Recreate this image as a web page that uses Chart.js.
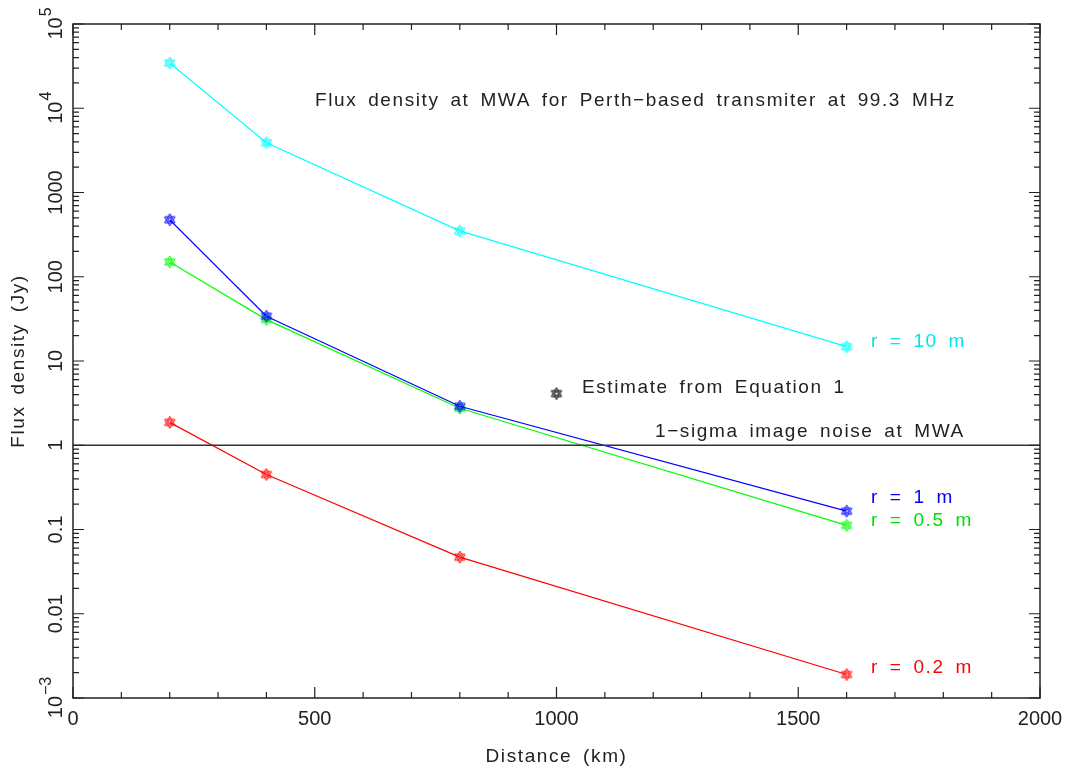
<!DOCTYPE html>
<html>
<head>
<meta charset="utf-8">
<script src="https://cdn.jsdelivr.net/npm/chart.js@4.4.1/dist/chart.umd.min.js"></script>
<style>
  body { margin: 0; background: #fff; }
  #wrap { width: 1074px; height: 774px; }
</style>
</head>
<body>
<div id="wrap"><canvas id="fluxChart" width="1074" height="774"></canvas></div>
<script>
// Data
const distances = [200, 400, 800, 1600];          // km
const flux10m  = [34500, 3900, 350, 14.8];        // Jy, r = 10 m
const flux1m   = [475, 34, 2.9, 0.165];           // Jy, r = 1 m
const flux05m  = [150, 31, 2.75, 0.112];          // Jy, r = 0.5 m
const flux02m  = [1.87, 0.45, 0.047, 0.0019];     // Jy, r = 0.2 m
const estimateX = [1000];
const estimateY = [4.1];
const noiseX = [0, 2000];
const noiseY = [1, 1];
const xTickValues = [0, 500, 1000, 1500, 2000];
const yTickValues = [0.001, 0.01, 0.1, 1, 10, 100, 1000, 10000, 100000];
const yTickLabels = [['10', '\u22123'], ['0.01'], ['0.1'], ['1'], ['10'], ['100'], ['1000'], ['10', '4'], ['10', '5']];

const FONT = '"Liberation Sans", Arial, sans-serif';
const TXT = '#222';

// hexagram marker, like the pgplot symbol
function makeStar(color) {
    const c = document.createElement('canvas');
    c.width = 16; c.height = 16;
    const g = c.getContext('2d');
    g.strokeStyle = color;
    g.lineWidth = 1;
    const r = 6, cx = 8, cy = 8;
    for (let t = 0; t < 2; t++) {
        g.beginPath();
        for (let i = 0; i < 3; i++) {
            const a = (t * 60 + i * 120 - 90) * Math.PI / 180;
            const px = cx + r * Math.cos(a), py = cy + r * Math.sin(a);
            i === 0 ? g.moveTo(px, py) : g.lineTo(px, py);
        }
        g.closePath();
        g.stroke();
    }
    g.beginPath();
    g.arc(cx, cy, 1.8, 0, Math.PI * 2);
    g.stroke();
    return c;
}

function pts(xs, ys) {
    return xs.map((x, i) => ({ x: x, y: ys[i] }));
}

function series(label, ys, color) {
    return {
        label: label,
        data: pts(distances, ys),
        showLine: true,
        borderColor: color,
        backgroundColor: color,
        borderWidth: 1.2,
        pointStyle: makeStar(color),
        pointRadius: 6,
        tension: 0
    };
}

// frame, inward ticks, y labels, axis titles and annotations
const framePlugin = {
    id: 'frame',
    afterDraw(chart) {
        const ctx = chart.ctx;
        const a = chart.chartArea;
        const xs = chart.scales.x, ys = chart.scales.y;
        ctx.save();
        ctx.strokeStyle = '#222';
        ctx.lineWidth = 1.5;
        ctx.strokeRect(a.left, a.top, a.right - a.left, a.bottom - a.top);

        ctx.lineWidth = 1.2;
        ctx.beginPath();
        // x ticks: major every 500, minor every 100
        for (let v = 0; v <= 2000; v += 100) {
            const px = xs.getPixelForValue(v);
            const len = v % 500 === 0 ? 11 : 6;
            ctx.moveTo(px, a.bottom); ctx.lineTo(px, a.bottom - len);
            ctx.moveTo(px, a.top); ctx.lineTo(px, a.top + len);
        }
        // y ticks: decades and 2..9 minors
        for (let e = -3; e <= 5; e++) {
            for (let m = 1; m <= 9; m++) {
                if (e === 5 && m > 1) break;
                const v = m * Math.pow(10, e);
                const py = ys.getPixelForValue(v);
                const len = m === 1 ? 11 : 6;
                ctx.moveTo(a.left, py); ctx.lineTo(a.left + len, py);
                ctx.moveTo(a.right, py); ctx.lineTo(a.right - len, py);
            }
        }
        ctx.stroke();

        // y tick labels, rotated
        ctx.fillStyle = TXT;
        yTickValues.forEach((v, i) => {
            const py = ys.getPixelForValue(v);
            const lab = yTickLabels[i];
            ctx.save();
            ctx.translate(62, py);
            ctx.rotate(-Math.PI / 2);
            ctx.textBaseline = 'alphabetic';
            ctx.font = '20px ' + FONT;
            const w0 = ctx.measureText(lab[0]).width;
            let w1 = 0;
            if (lab.length > 1) {
                ctx.font = '16px ' + FONT;
                w1 = ctx.measureText(lab[1]).width;
            }
            const start = -(w0 + w1) / 2;
            ctx.font = '20px ' + FONT;
            ctx.textAlign = 'left';
            ctx.fillText(lab[0], start, 0);
            if (lab.length > 1) {
                ctx.font = '16px ' + FONT;
                ctx.fillText(lab[1], start + w0 + 1, -11);
            }
            ctx.restore();
        });

        ctx.font = '19px ' + FONT;
        ctx.letterSpacing = '1.6px';
        ctx.wordSpacing = '4px';
        ctx.textBaseline = 'middle';

        // axis titles
        ctx.textAlign = 'center';
        ctx.fillStyle = TXT;
        ctx.fillText('Distance (km)', (a.left + a.right) / 2, 757);
        ctx.save();
        ctx.translate(19, (a.top + a.bottom) / 2);
        ctx.rotate(-Math.PI / 2);
        ctx.fillText('Flux density (Jy)', 0, 0);
        ctx.restore();

        // annotations
        ctx.textAlign = 'left';
        const notes = [
            ['Flux density at MWA for Perth\u2212based transmiter at 99.3 MHz', 315, 101, TXT],
            ['r = 10 m', 871, 342, '#00e5e5'],
            ['Estimate from Equation 1', 582, 388, TXT],
            ['1\u2212sigma image noise at MWA', 655, 432, TXT],
            ['r = 1 m', 871, 498, '#0000ff'],
            ['r = 0.5 m', 871, 521, '#00e000'],
            ['r = 0.2 m', 871, 668, '#ff0000']
        ];
        notes.forEach(n => {
            ctx.fillStyle = n[3];
            ctx.fillText(n[0], n[1], n[2]);
        });
        ctx.restore();
    }
};

const ctx = document.getElementById('fluxChart').getContext('2d');
const fluxChart = new Chart(ctx, {
    type: 'scatter',
    data: {
        datasets: [
            {
                label: '1-sigma noise',
                data: pts(noiseX, noiseY),
                showLine: true,
                borderColor: '#333',
                borderWidth: 1.6,
                pointRadius: 0
            },
            series('r = 10 m', flux10m, '#00ffff'),
            series('r = 1 m', flux1m, '#0000ff'),
            series('r = 0.5 m', flux05m, '#00ff00'),
            series('r = 0.2 m', flux02m, '#ff0000'),
            {
                label: 'Estimate',
                data: pts(estimateX, estimateY),
                showLine: false,
                pointStyle: makeStar('#000'),
                pointRadius: 6
            }
        ]
    },
    options: {
        responsive: false,
        animation: false,
        layout: { padding: { top: 24, right: 34, left: 0, bottom: 0 } },
        plugins: { legend: { display: false }, tooltip: { enabled: false } },
        scales: {
            x: {
                type: 'linear',
                min: 0,
                max: 2000,
                afterBuildTicks: s => { s.ticks = xTickValues.map(v => ({ value: v })); },
                afterFit: s => { s.height = 76; },
                grid: { display: false, drawTicks: false },
                border: { display: false },
                ticks: { color: TXT, font: { family: FONT, size: 20 }, padding: 9, maxRotation: 0,
                         callback: v => String(v) }
            },
            y: {
                type: 'logarithmic',
                min: 0.001,
                max: 100000,
                afterBuildTicks: s => { s.ticks = yTickValues.map(v => ({ value: v })); },
                afterFit: s => { s.width = 73; },
                grid: { display: false, drawTicks: false },
                border: { display: false },
                ticks: { display: false }
            }
        }
    },
    plugins: [framePlugin]
});
</script>
</body>
</html>
